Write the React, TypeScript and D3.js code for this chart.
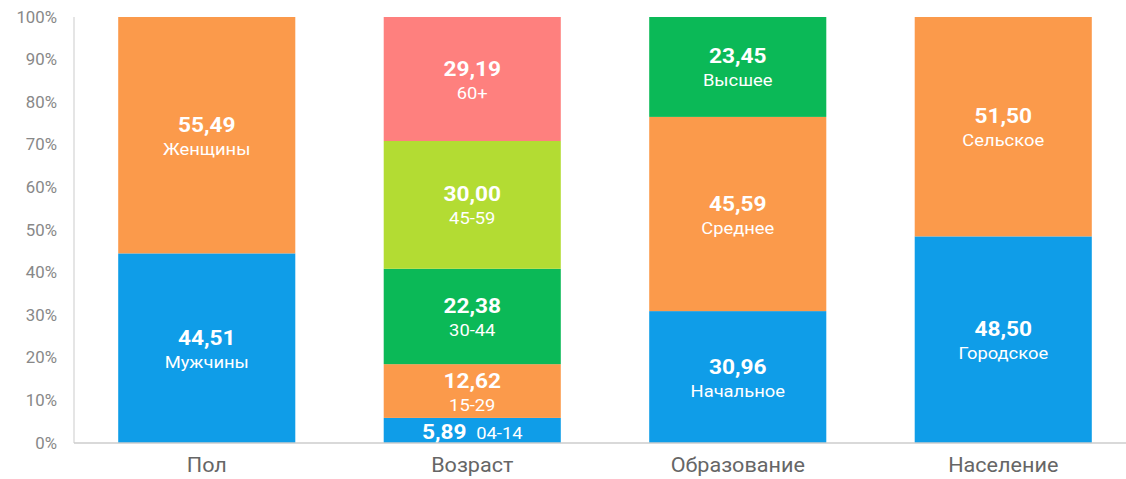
import React from "react";
import * as d3 from "d3";

const categories = ["Пол", "Возраст", "Образование", "Население"];
const segValues: number[][] = [
  [44.51, 55.49],
  [5.89, 12.62, 22.38, 30.0, 29.19],
  [30.96, 45.59, 23.45],
  [48.5, 51.5],
];
const segNames: string[][] = [
  ["Мужчины", "Женщины"],
  ["04-14", "15-29", "30-44", "45-59", "60+"],
  ["Начальное", "Среднее", "Высшее"],
  ["Городское", "Сельское"],
];
const segColors: string[][] = [
  ["#0f9de8", "#fb9a4b"],
  ["#0f9de8", "#fb9a4b", "#0bb957", "#b3dc33", "#fe807e"],
  ["#0f9de8", "#fb9a4b", "#0bb957"],
  ["#0f9de8", "#fb9a4b"],
];
const yTicks = [0, 10, 20, 30, 40, 50, 60, 70, 80, 90, 100];

const W = 1126;
const H = 479;
const left = 74;
const top = 17;
const bottom = 443;

export default function App() {
  const x = d3
    .scaleBand<string>()
    .domain(categories)
    .range([left, left + 4 * 265.5])
    .paddingInner(0.333)
    .paddingOuter(0.1665);
  const y = d3.scaleLinear().domain([0, 100]).range([bottom, top]);
  const fmt = (v: number) => v.toFixed(2).replace(".", ",");
  const font = "Roboto, 'Noto Sans', sans-serif";
  const sx = 1.08;

  return (
    <svg
      width={W}
      height={H}
      style={{ position: "absolute", left: 0, top: 0, background: "#fff" }}
      fontFamily={font}
    >
      {categories.map((c, i) => {
        let acc = 0;
        const bx = x(c)!;
        const bw = x.bandwidth();
        const cx = bx + bw / 2;
        return (
          <g key={c}>
            {segValues[i].map((v, j) => {
              const y0 = y(acc);
              const y1 = y(Math.min(acc + v, 100));
              acc += v;
              const mid = (y0 + y1) / 2;
              const small = y0 - y1 < 40;
              return (
                <g key={j}>
                  <rect x={bx} y={y1} width={bw} height={y0 - y1} fill={segColors[i][j]} />
                  {small ? (
                    <text
                      transform={`translate(${cx},${mid + 8.5}) scale(${sx},1)`}
                      textAnchor="middle"
                      fill="#fff"
                    >
                      <tspan fontWeight="bold" fontSize={21}>{fmt(v)}</tspan>
                      <tspan fontSize={17} dx={9}>{segNames[i][j]}</tspan>
                    </text>
                  ) : (
                    <g>
                      <text
                        transform={`translate(${cx},${mid - 3.5}) scale(${sx},1)`}
                        textAnchor="middle"
                        fill="#fff"
                        fontWeight="bold"
                        fontSize={21}
                      >
                        {fmt(v)}
                      </text>
                      <text
                        transform={`translate(${cx},${mid + 19.5}) scale(${sx},1)`}
                        textAnchor="middle"
                        fill="#fff"
                        fontSize={17}
                      >
                        {segNames[i][j]}
                      </text>
                    </g>
                  )}
                </g>
              );
            })}
            <text
              transform={`translate(${cx},472) scale(${sx},1)`}
              textAnchor="middle"
              fill="#666"
              fontSize={20}
            >
              {c}
            </text>
          </g>
        );
      })}
      <line x1={left} x2={left} y1={top} y2={bottom} stroke="#ddd" strokeWidth={1.5} />
      <line x1={left} x2={W} y1={bottom} y2={bottom} stroke="#ccc" strokeWidth={1.5} />
      {yTicks.map((t) => (
        <text
          key={t}
          transform={`translate(57,${y(t) + 5.5}) scale(1.05,1)`}
          textAnchor="end"
          fill="#888"
          fontSize={16}
        >
          {t}%
        </text>
      ))}
    </svg>
  );
}
